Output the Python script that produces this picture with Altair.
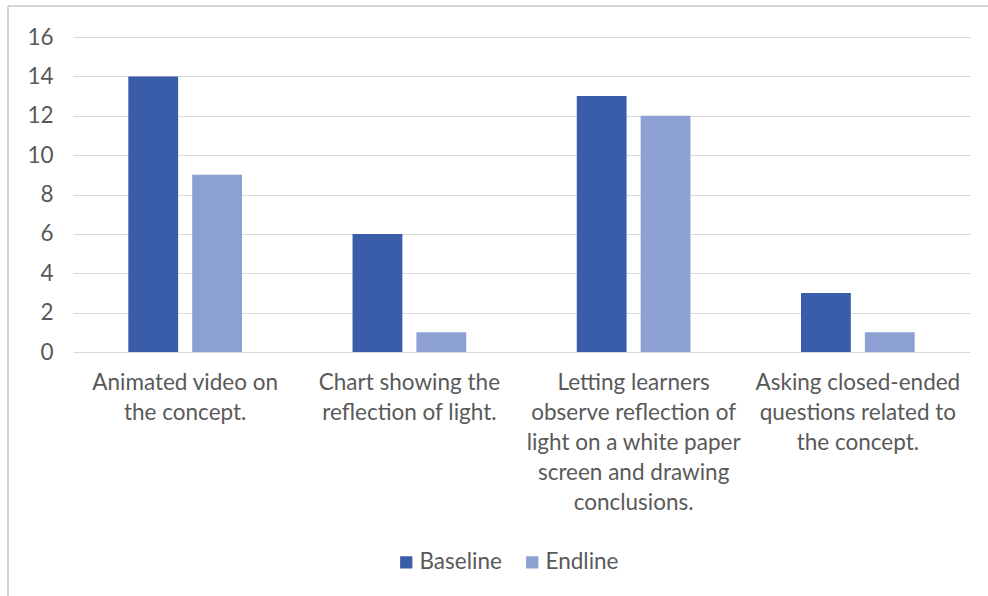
import altair as alt
import pandas as pd

# Teaching strategies and learner counts at baseline and endline
categories = [
    "Animated video on|the concept.",
    "Chart showing the|reflection of light.",
    "Letting learners|observe reflection of|light on a white paper|screen and drawing|conclusions.",
    "Asking closed-ended|questions related to|the concept.",
]
baseline = [14, 6, 13, 3]
endline = [9, 1, 12, 1]
series = ["Baseline", "Endline"]
colors = ["#395DA8", "#8CA0D2"]
y_ticks = [0, 2, 4, 6, 8, 10, 12, 14, 16]

rows = []
for cat, b, e in zip(categories, baseline, endline):
    rows.append({"strategy": cat, "series": "Baseline", "count": b})
    rows.append({"strategy": cat, "series": "Endline", "count": e})
df = pd.DataFrame(rows)

FONT = "Lato"
GREY = "#595959"
SIZE = 22.5

bars = alt.Chart(df).mark_bar().encode(
    x=alt.X(
        "strategy:N",
        sort=categories,
        scale=alt.Scale(paddingInner=0.493, paddingOuter=0.2467),
        axis=alt.Axis(
            title=None,
            labelAngle=0,
            labelExpr="split(datum.label, '|')",
            labelFont=FONT,
            labelFontSize=SIZE,
            labelColor=GREY,
            labelLineHeight=30,
            labelPadding=19,
            labelBaseline="top",
            labelLimit=300,
            ticks=False,
            domain=False,
        ),
    ),
    xOffset=alt.XOffset(
        "series:N",
        sort=series,
        scale=alt.Scale(paddingInner=0.22, paddingOuter=0),
    ),
    y=alt.Y(
        "count:Q",
        scale=alt.Scale(domain=[0, 16], nice=False),
        axis=alt.Axis(
            title=None,
            values=y_ticks,
            labelFont=FONT,
            labelFontSize=SIZE,
            labelColor=GREY,
            labelPadding=20,
            ticks=False,
            domain=False,
            gridColor="#d9d9d9",
            gridWidth=1.2,
        ),
    ),
    color=alt.Color(
        "series:N",
        sort=series,
        scale=alt.Scale(domain=series, range=colors),
        legend=alt.Legend(
            title=None,
            orient="none",
            legendX=322,
            legendY=514,
            direction="horizontal",
            symbolType="square",
            symbolSize=150,
            symbolStrokeWidth=0,
            labelFont=FONT,
            labelFontSize=SIZE,
            labelColor=GREY,
            columnPadding=19,
            labelOffset=2,
        ),
    ),
)

# thin frame along the top and left edges of the figure
frame_left = alt.Chart(df).mark_rule(color="#d4d4d4", strokeWidth=1.5).encode(
    x=alt.value(-65), y=alt.value(-31), y2=alt.value(559)
)
frame_top = alt.Chart(df).mark_rule(color="#d4d4d4", strokeWidth=1.5).encode(
    x=alt.value(-65), x2=alt.value(915), y=alt.value(-31)
)

chart = (
    alt.layer(bars, frame_left, frame_top)
    .properties(
        width=897,
        height=315,
        autosize=alt.AutoSizeParams(type="none"),
        padding={"left": 73, "top": 37, "right": 18, "bottom": 244},
        background="white",
    )
    .configure_view(stroke=None)
)

chart.save("out.html", embed_options={"renderer": "svg", "actions": False})
